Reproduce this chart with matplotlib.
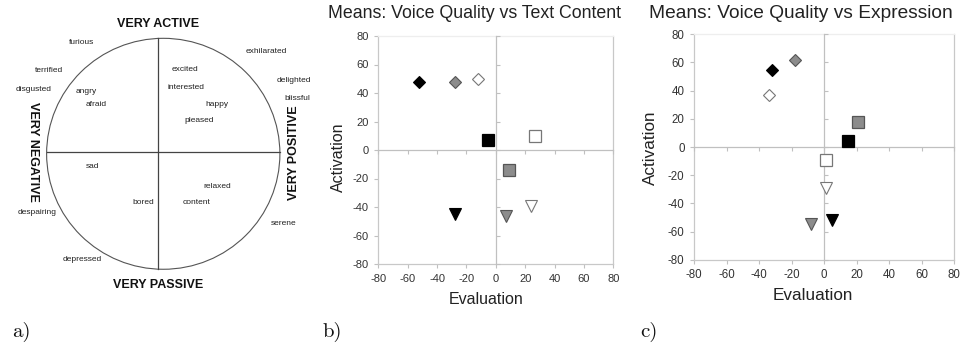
import matplotlib
matplotlib.use("Agg")
import matplotlib.pyplot as plt
from matplotlib.patches import Ellipse

plt.rcParams["axes.unicode_minus"] = False

# ---------------- data ----------------
# panel a: circumplex words (valence, arousal) in circle-radius units
emotion_words = ["furious", "exhilarated", "terrified", "excited", "delighted",
                 "disgusted", "angry", "interested", "blissful", "afraid",
                 "happy", "pleased", "sad", "relaxed", "bored", "content",
                 "despairing", "serene", "depressed"]
emotion_valence = [-0.66, 0.93, -0.94, 0.23, 1.17, -1.08, -0.62, 0.24, 1.20,
                   -0.54, 0.50, 0.35, -0.57, 0.51, -0.13, 0.33, -1.05, 1.08, -0.66]
emotion_arousal = [0.94, 0.86, 0.70, 0.71, 0.61, 0.54, 0.52, 0.55, 0.46,
                   0.41, 0.41, 0.27, -0.13, -0.30, -0.44, -0.44, -0.52, -0.62, -0.93]
pole_labels = ["VERY ACTIVE", "VERY PASSIVE", "VERY NEGATIVE", "VERY POSITIVE"]

# marker fills: black, gray, white
fills = ["#000000", "#8c8c8c", "#ffffff"]
edges = ["#000000", "#555555", "#777777"]

# panel b: Voice Quality vs Text Content
b_diamond_x = [-52, -28, -12]
b_diamond_y = [48, 48, 50]
b_square_x = [-5, 9, 27]
b_square_y = [7, -14, 10]
b_tri_x = [-28, 7, 24]
b_tri_y = [-45, -46, -39]

# panel c: Voice Quality vs Expression
c_diamond_x = [-32, -18, -34]
c_diamond_y = [55, 62, 37]
c_square_x = [15, 21, 1]
c_square_y = [4, 18, -9]
c_tri_x = [5, -8, 1]
c_tri_y = [-52, -55, -29]

ticks = [-80, -60, -40, -20, 0, 20, 40, 60, 80]

# ---------------- figure ----------------
W, H = 962, 347
fig = plt.figure(figsize=(W / 100, H / 100), dpi=100)
sans = ["Liberation Sans", "DejaVu Sans"]
serif = ["cmr10", "DejaVu Serif"]

# ---------- panel a ----------
R = 116.0
cx, cy = 158.5, 151.7
axa = fig.add_axes([0, 0, 1, 1])
axa.set_xlim(-cx / R, (W - cx) / R)
axa.set_ylim(-(H - cy) / R, cy / R)
axa.axis("off")
axa.add_patch(Ellipse((0.041, -0.018), 2.011, 1.991, fill=False,
                      edgecolor="#555555", lw=0.8))
axa.plot([-0.964, 1.047], [0, 0], color="#444444", lw=0.9)
axa.plot([0, 0], [-1.014, 0.978], color="#444444", lw=0.9)
for w, vx, vy in zip(emotion_words, emotion_valence, emotion_arousal):
    axa.text(vx, vy, w, fontsize=6, family=sans, color="#222222",
             ha="center", va="center")
pole_pos = [(0.0, 1.10, 0), (0.0, -1.15, 0), (-1.08, 0.0, 270), (1.17, -0.01, 90)]
for lab, (px, py, rot) in zip(pole_labels, pole_pos):
    axa.text(px, py, lab, fontsize=9, fontweight="bold", family=sans,
             ha="center", va="center", rotation=rot, color="#111111")


def scatter_panel(rect, title, dx, dy, sx, sy, tx, ty, title_xy, ylab_xy, xlab_xy,
                  tfs, lfs, kfs, msq):
    x0, y0, w, h = rect
    fr = (x0 / W, 1 - y0 / H - h / H, w / W, h / H)
    axf = fig.add_axes(fr)
    axf.set_xlim(-80, 80)
    axf.set_ylim(-80, 80)
    axf.set_xticks(ticks)
    axf.set_yticks(ticks)
    for s in ["left", "bottom", "right"]:
        axf.spines[s].set_color("#c8c8c8")
    axf.spines["top"].set_color("#eeeeee")
    for s in axf.spines.values():
        s.set_linewidth(0.9)
    axf.tick_params(direction="out", length=3, width=0.8, color="#c0c0c0",
                    labelsize=kfs, labelcolor="#333333")
    axf.tick_params(axis="x", pad=4)
    axf.tick_params(axis="y", pad=4)
    for lbl in axf.get_xticklabels() + axf.get_yticklabels():
        lbl.set_family(sans)

    axm = fig.add_axes(fr, facecolor="none")
    axm.set_xlim(-80, 80)
    axm.set_ylim(-80, 80)
    axm.set_xticks(ticks)
    axm.set_yticks(ticks)
    axm.spines["left"].set_position(("data", 0))
    axm.spines["bottom"].set_position(("data", 0))
    axm.spines["top"].set_visible(False)
    axm.spines["right"].set_visible(False)
    for s in ["left", "bottom"]:
        axm.spines[s].set_color("#c0c0c0")
        axm.spines[s].set_linewidth(0.9)
    axm.tick_params(axis="x", direction="out", length=3, width=0.8,
                    color="#c0c0c0", labelbottom=False)
    axm.tick_params(axis="y", direction="in", length=3, width=0.8,
                    color="#c0c0c0", labelleft=False)
    for i in range(3):
        axm.plot(dx[i], dy[i], marker="D", ms=6, mfc=fills[i], mec=edges[i],
                 mew=0.8, ls="none", zorder=3)
        axm.plot(sx[i], sy[i], marker="s", ms=msq, mfc=fills[i], mec=edges[i],
                 mew=0.9, ls="none", zorder=3)
        axm.plot(tx[i], ty[i], marker="v", ms=8, mfc=fills[i], mec=edges[i],
                 mew=0.8, ls="none", zorder=3)

    fig.text(title_xy[0] / W, 1 - title_xy[1] / H, title, fontsize=tfs,
             family=sans, color="#222222", ha="center", va="center")
    fig.text(ylab_xy[0] / W, 1 - ylab_xy[1] / H, "Activation", fontsize=lfs,
             family=sans, color="#222222", ha="center", va="center", rotation=90)
    fig.text(xlab_xy[0] / W, 1 - xlab_xy[1] / H, "Evaluation", fontsize=lfs,
             family=sans, color="#222222", ha="center", va="center")


scatter_panel((378.3, 36.0, 235.0, 228.0), "Means: Voice Quality vs Text Content",
              b_diamond_x, b_diamond_y, b_square_x, b_square_y, b_tri_x, b_tri_y,
              (475, 14), (338, 157), (486, 300), 12.8, 11.5, 8, 8)
scatter_panel((694.3, 34.3, 259.7, 225.4), "Means: Voice Quality vs Expression",
              c_diamond_x, c_diamond_y, c_square_x, c_square_y, c_tri_x, c_tri_y,
              (801, 13), (650, 148), (813, 295), 13.8, 12.3, 8.3, 8.5)

for lab, x in [("a)", 12), ("b)", 323), ("c)", 640)]:
    fig.text(x / W, 1 - 332 / H, lab, fontsize=15, family=serif,
             ha="left", va="center", color="#111111")

fig.savefig("out.png", dpi=100)
